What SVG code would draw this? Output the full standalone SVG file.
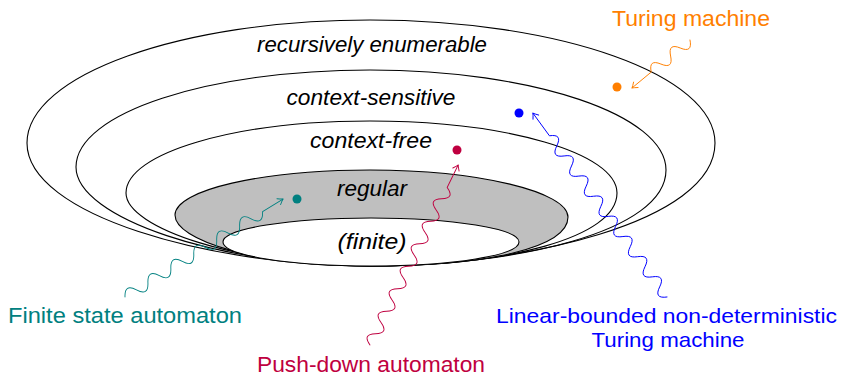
<svg xmlns="http://www.w3.org/2000/svg" width="841" height="376" viewBox="0 0 841 376">
  <style>
    .set { stroke: #000; stroke-width: 1.1; fill: none; }
    .cls { font-family: "Liberation Sans", Arial, sans-serif; font-style: italic; font-size: 22px; fill: #000; text-anchor: middle; }
    .lbl { font-family: "Liberation Sans", Arial, sans-serif; font-size: 22px; text-anchor: middle; }
    .lbl2 { font-family: "Liberation Sans", Arial, sans-serif; font-size: 21px; text-anchor: middle; }
    .snake { fill: none; stroke-width: 0.9; stroke-linejoin: round; stroke-linecap: round; }
  </style>
  <rect width="841" height="376" fill="#fff"/>

  <!-- nested language classes -->
  <g id="recursively-enumerable">
    <path class="set" d="M370,266 C210,266 27,215 27,143 C27,75 181,20 370,20 C560,20 715,75 715,143 C715,223 520,266 370,266 Z"/>
    <text class="cls" x="372" y="52" textLength="230" lengthAdjust="spacingAndGlyphs">recursively enumerable</text>
  </g>
  <g id="context-sensitive">
    <path class="set" d="M370,266 C220,266 76,218 76,167 C76,113 208,70 370,70 C533,70 666,115 666,170 C666,232 515,266 370,266 Z"/>
    <text class="cls" x="371" y="105" textLength="169" lengthAdjust="spacingAndGlyphs">context-sensitive</text>
  </g>
  <g id="context-free">
    <path class="set" d="M370,266 C240,266 126,228 126,193 C126,153 235,121 370,121 C506,121 617,153 617,193 C617,238 505,266 370,266 Z"/>
    <text class="cls" x="371" y="148" textLength="122" lengthAdjust="spacingAndGlyphs">context-free</text>
  </g>
  <g id="regular">
    <path class="set" style="fill:#bfbfbf" d="M370,266 C255,266 175,240 175,215 C175,190 262,170 370,170 C479,170 568,192 568,217 C568,247 490,266 370,266 Z"/>
    <text class="cls" x="372" y="196" textLength="70" lengthAdjust="spacingAndGlyphs">regular</text>
  </g>
  <g id="finite">
    <ellipse class="set" style="fill:#fff" cx="371" cy="242" rx="148" ry="24"/>
    <text class="cls" x="372" y="249" textLength="69" lengthAdjust="spacingAndGlyphs">(finite)</text>
  </g>

  <!-- machine markers -->
  <g id="dot-fsa"><circle cx="297" cy="199" r="4.5" fill="#008080"/></g>
  <g id="dot-pda"><circle cx="457" cy="150" r="4.5" fill="#bf0040"/></g>
  <g id="dot-lba"><circle cx="519" cy="113" r="4.5" fill="#0000ff"/></g>
  <g id="dot-tm"><circle cx="617" cy="87" r="4.5" fill="#ff7f00"/></g>

  <!-- wavy pointers: each drawn along +x, then placed by transform -->
  <g id="connectors">
    <g transform="translate(125,297) rotate(-31.8)" stroke="#008080">
      <path class="snake" d="M0,0 c4.5,-8 9,-8 13.49,0 c4.5,8 9,8 13.49,0 c4.5,-8 9,-8 13.49,0 c4.5,8 9,8 13.49,0 c4.5,-8 9,-8 13.49,0 c4.5,8 9,8 13.49,0 c4.5,-8 9,-8 13.49,0 c4.5,8 9,8 13.49,0 c4.5,-8 9,-8 13.49,0 c4.5,8 9,8 13.49,0 c4.5,-8 9,-8 13.49,0 c4.5,8 9,8 13.49,0 L185.9,0"/>
      <path class="snake" d="M180.9,-3.5 Q184.1,-1 185.9,0 Q184.1,1 180.9,3.5"/>
    </g>
    <g transform="translate(370,345) rotate(-63.9)" stroke="#bf0040">
      <path class="snake" d="M0,0 c4.18,-8 8.35,-8 12.53,0 c4.18,8 8.35,8 12.53,0 c4.18,-8 8.35,-8 12.53,0 c4.18,8 8.35,8 12.53,0 c4.18,-8 8.35,-8 12.53,0 c4.18,8 8.35,8 12.53,0 c4.18,-8 8.35,-8 12.53,0 c4.18,8 8.35,8 12.53,0 c4.18,-8 8.35,-8 12.53,0 c4.18,8 8.35,8 12.53,0 c4.18,-8 8.35,-8 12.53,0 c4.18,8 8.35,8 12.53,0 c4.18,-8 8.35,-8 12.53,0 c4.18,8 8.35,8 12.53,0 L200.4,0"/>
      <path class="snake" d="M195.4,-3.5 Q198.6,-1 200.4,0 Q198.6,1 195.4,3.5"/>
    </g>
    <g transform="translate(667,297) rotate(-126.1)" stroke="#0000ff">
      <path class="snake" d="M0,0 c4.16,-8 8.31,-8 12.47,0 c4.16,8 8.31,8 12.47,0 c4.16,-8 8.31,-8 12.47,0 c4.16,8 8.31,8 12.47,0 c4.16,-8 8.31,-8 12.47,0 c4.16,8 8.31,8 12.47,0 c4.16,-8 8.31,-8 12.47,0 c4.16,8 8.31,8 12.47,0 c4.16,-8 8.31,-8 12.47,0 c4.16,8 8.31,8 12.47,0 c4.16,-8 8.31,-8 12.47,0 c4.16,8 8.31,8 12.47,0 c4.16,-8 8.31,-8 12.47,0 c4.16,8 8.31,8 12.47,0 c4.16,-8 8.31,-8 12.47,0 c4.16,8 8.31,8 12.47,0 L227.6,0"/>
      <path class="snake" d="M222.6,-3.5 Q225.8,-1 227.6,0 Q225.8,1 222.6,3.5"/>
    </g>
    <g transform="translate(690,40) rotate(140.4)" stroke="#ff7f00">
      <path class="snake" d="M0,0 c4.19,-8 8.39,-8 12.58,0 c4.19,8 8.39,8 12.58,0 c4.19,-8 8.39,-8 12.58,0 c4.19,8 8.39,8 12.58,0 L75.3,0"/>
      <path class="snake" d="M70.3,-3.5 Q73.5,-1 75.3,0 Q73.5,1 70.3,3.5"/>
    </g>
  </g>

  <!-- machine labels -->
  <g id="label-tm"><text class="lbl" fill="#ff7f00" x="691" y="26" textLength="158" lengthAdjust="spacingAndGlyphs">Turing machine</text></g>
  <g id="label-fsa"><text class="lbl" fill="#008080" x="125" y="323" textLength="234" lengthAdjust="spacingAndGlyphs">Finite state automaton</text></g>
  <g id="label-pda"><text class="lbl" fill="#bf0040" x="371" y="372" textLength="228" lengthAdjust="spacingAndGlyphs">Push-down automaton</text></g>
  <g id="label-lba">
    <text class="lbl2" fill="#0000ff" x="666.5" y="323" textLength="341" lengthAdjust="spacingAndGlyphs">Linear-bounded non-deterministic</text>
    <text class="lbl2" fill="#0000ff" x="668" y="347" textLength="153" lengthAdjust="spacingAndGlyphs">Turing machine</text>
  </g>
</svg>
